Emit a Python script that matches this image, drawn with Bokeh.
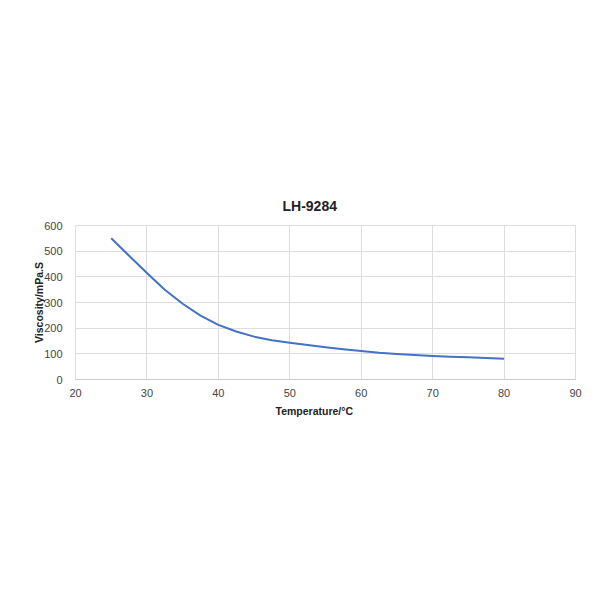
from bokeh.plotting import figure
from bokeh.models import FixedTicker, Title
from bokeh.embed import file_html
from bokeh.resources import INLINE

temperature = [25, 27.5, 30, 32.5, 35, 37.5, 40, 42.5, 45, 47.5, 50, 52.5, 55,
               57.5, 60, 62.5, 65, 67.5, 70, 72.5, 75, 77.5, 80]
viscosity = [550, 482, 415, 350, 295, 249, 213, 187, 167, 153, 143, 134, 126,
             118, 111, 104, 99, 95, 92, 89, 87, 84, 81]
x_ticks = [20, 30, 40, 50, 60, 70, 80, 90]
y_ticks = [0, 100, 200, 300, 400, 500, 600]
title_text = "LH-9284"
x_label = "Temperature/°C"
y_label = "Viscosity/mPa.S"

FONT = "Liberation Sans"

p = figure(width=584, height=584, output_backend="svg", toolbar_location=None,
           x_range=(20, 90), y_range=(0, 600),
           min_border_left=75, min_border_right=9, min_border_top=225, min_border_bottom=205)

p.title.text = title_text
p.title.align = "left"
p.title.offset = 207
p.title.text_font = FONT
p.title.text_font_size = "14px"
p.title.text_font_style = "bold"
p.title.text_color = "#222222"
p.title.standoff = 24

p.line(temperature, viscosity, line_color="#4472C4", line_width=2, line_join="round")

p.xaxis.ticker = FixedTicker(ticks=x_ticks)
p.yaxis.ticker = FixedTicker(ticks=y_ticks)
for ax in (p.xaxis[0], p.yaxis[0]):
    ax.major_tick_line_color = None
    ax.minor_tick_line_color = None
    ax.major_label_text_font = FONT
    ax.major_label_text_font_size = "11px"
    ax.major_label_text_color = "#444444"
    ax.axis_label_text_font = FONT
    ax.axis_label_text_font_size = "10.5px"
    ax.axis_label_text_font_style = "bold"
    ax.axis_label_text_color = "#222222"
p.xaxis.axis_line_color = "#cccccc"
p.yaxis.axis_line_color = None
p.yaxis.axis_label = y_label
p.yaxis.axis_label_standoff = -4
p.yaxis.major_label_standoff = 7
p.xaxis.major_label_standoff = 3

xt = Title(text=x_label, align="left", offset=200, standoff=6,
           text_font=FONT, text_font_size="10.5px", text_font_style="bold",
           text_color="#222222")
p.add_layout(xt, "below")

p.xgrid.grid_line_color = "#dddddd"
p.ygrid.grid_line_color = "#dddddd"
p.outline_line_color = "#dddddd"
p.background_fill_color = "white"
p.border_fill_color = "white"

open("out.html", "w").write(file_html(p, INLINE))
